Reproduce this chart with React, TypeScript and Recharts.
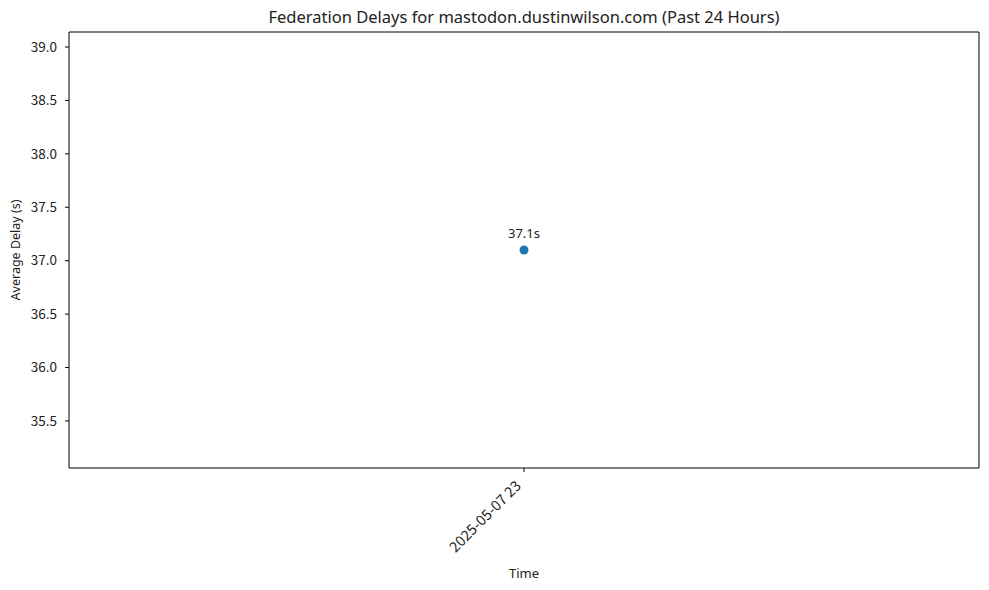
import React from "react";
import {
  LineChart,
  Line,
  XAxis,
  YAxis,
  LabelList,
} from "recharts";

const categories = ["2025-05-07 23"];
const delays = [37.1];
const yTicks = [35.5, 36.0, 36.5, 37.0, 37.5, 38.0, 38.5, 39.0];
const yDomain = [35.0595, 39.1405];

const data = categories.map((c, i) => ({ time: c, delay: delays[i] }));

const FONT = '"Noto Sans", sans-serif';
const NUMFONT = '"Noto Sans CJK JP", "Noto Sans", sans-serif';

const XTick = (props: any) => {
  const { x, y, payload } = props;
  return (
    <g transform={`translate(${x - 5},${y + 10})`}>
      <text
        x={0}
        y={0}
        dy={4}
        textAnchor="end"
        transform="rotate(-45)"
        fontSize={14.5}
        fontFamily={NUMFONT}
        fill="#222"
      >
        {payload.value}
      </text>
    </g>
  );
};

export default function App() {
  return (
    <div style={{ position: "absolute", left: 0, top: 0, width: 989, height: 590, background: "#fff" }}>
      <LineChart
        width={989}
        height={590}
        data={data}
        margin={{ top: 31, right: 9, bottom: 0, left: 0 }}
      >
        <text
          x={524}
          y={23}
          textAnchor="middle"
          fontSize={16.5}
          fontFamily={FONT}
          fill="#222"
        >
          Federation Delays for mastodon.dustinwilson.com (Past 24 Hours)
        </text>
        <XAxis
          dataKey="time"
          height={122}
          stroke="#000"
          tickLine={{ stroke: "#000" }}
          tickSize={4}
          tick={<XTick />}
          interval={0}
          label={{
            value: "Time",
            position: "insideBottom",
            offset: 12,
            fontSize: 13,
            fontFamily: FONT,
            fill: "#222",
          }}
        />
        <XAxis
          xAxisId="top"
          dataKey="time"
          orientation="top"
          height={1}
          tick={false}
          tickLine={false}
          stroke="#000"
        />
        <YAxis
          type="number"
          domain={yDomain}
          ticks={yTicks}
          allowDataOverflow
          width={69}
          stroke="#000"
          tickSize={4}
          tickMargin={8}
          tickLine={{ stroke: "#000" }}
          tickFormatter={(v: number) => v.toFixed(1)}
          tick={{ fontSize: 13.5, fontFamily: NUMFONT, fill: "#222" }}
          label={{
            value: "Average Delay (s)",
            angle: -90,
            position: "insideLeft",
            offset: 16,
            style: { textAnchor: "middle" },
            fontSize: 12.5,
            fontFamily: FONT,
            fill: "#222",
          }}
        />
        <YAxis
          yAxisId="right"
          orientation="right"
          type="number"
          domain={yDomain}
          width={1}
          tick={false}
          tickLine={false}
          stroke="#000"
        />
        <Line
          dataKey="delay"
          stroke="#1f77b4"
          strokeWidth={1.5}
          dot={{ r: 4.5, fill: "#1f77b4", stroke: "#1f77b4", strokeWidth: 0 }}
          isAnimationActive={false}
        >
          <LabelList
            dataKey="delay"
            position="top"
            offset={12}
            formatter={(v: number) => `${v}s`}
            style={{ fontSize: 13, fontFamily: FONT, fill: "#222" }}
          />
        </Line>
      </LineChart>
    </div>
  );
}
